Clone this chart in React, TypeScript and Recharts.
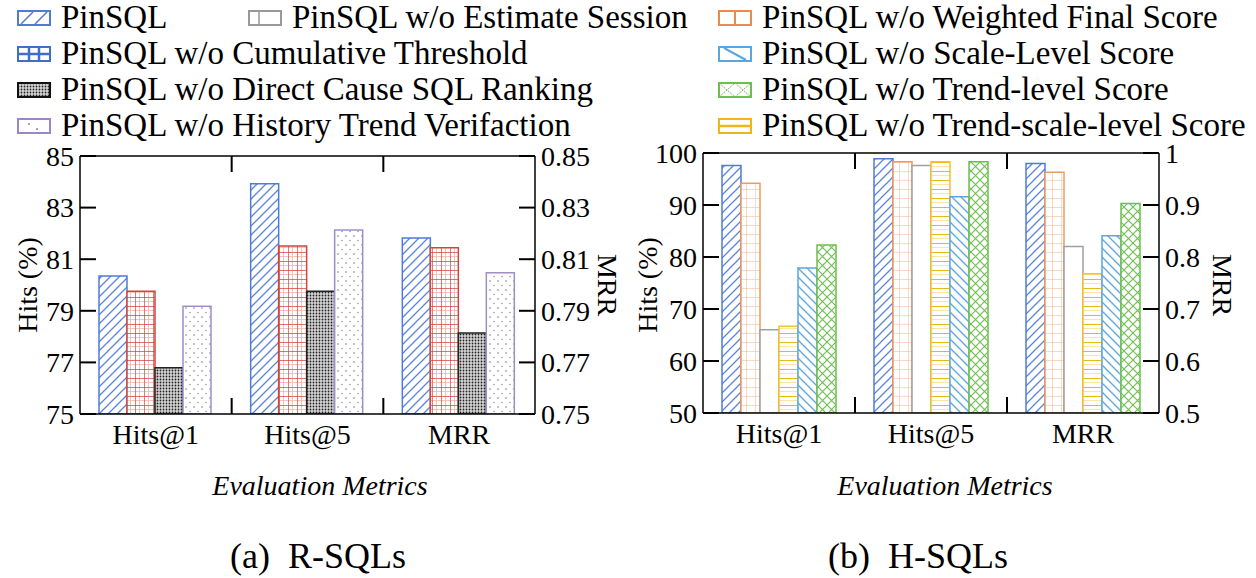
import { BarChart, Bar, XAxis, YAxis, ReferenceLine } from "recharts"

const FONT = "Liberation Serif"

const CATEGORIES = ["Hits@1", "Hits@5", "MRR"]

// (a) R-SQLs — Hits@1 (%), Hits@5 (%), MRR
const R_PINSQL = [80.35, 83.92, 0.8182]
const R_NO_CUMULATIVE = [79.76, 81.51, 0.8144]
const R_NO_DIRECT_CAUSE = [76.79, 79.76, 0.7814]
const R_NO_HISTORY = [79.18, 82.13, 0.8047]

// (b) H-SQLs
const H_PINSQL = [97.6, 98.9, 0.98]
const H_NO_WEIGHTED = [94.2, 98.3, 0.963]
const H_NO_ESTIMATE = [66.0, 97.6, 0.82]
const H_NO_TREND_SCALE = [66.7, 98.3, 0.768]
const H_NO_SCALE = [77.9, 91.6, 0.841]
const H_NO_TREND = [82.3, 98.3, 0.903]

const R_HITS_TICKS = [75, 77, 79, 81, 83, 85]
const R_MRR_TICKS = [0.75, 0.77, 0.79, 0.81, 0.83, 0.85]
const H_HITS_TICKS = [50, 60, 70, 80, 90, 100]
const H_MRR_TICKS = [0.5, 0.6, 0.7, 0.8, 0.9, 1]

/* MRR shares the bar axis: 0.8 on the right axis sits at 80 on the left one */
function toRows(series: Record<string, number[]>) {
  return CATEGORIES.map((cat, i) => {
    const row: Record<string, string | number> = { cat }
    for (const k of Object.keys(series)) row[k] = i === 2 ? series[k][i] * 100 : series[k][i]
    return row
  })
}

const R_ROWS = toRows({
  pin: R_PINSQL, cum: R_NO_CUMULATIVE, dir: R_NO_DIRECT_CAUSE, his: R_NO_HISTORY,
})
const H_ROWS = toRows({
  pin: H_PINSQL, wei: H_NO_WEIGHTED, est: H_NO_ESTIMATE,
  tsl: H_NO_TREND_SCALE, scl: H_NO_SCALE, trd: H_NO_TREND,
})

const R_BARS = [
  { key: "pin", fill: "url(#p-pin)", stroke: "#4F7BD6" },
  { key: "cum", fill: "url(#p-cum)", stroke: "#D4443C" },
  { key: "dir", fill: "url(#p-dir)", stroke: "#222" },
  { key: "his", fill: "url(#p-his)", stroke: "#9E8DC8" },
]
const H_BARS = [
  { key: "pin", fill: "url(#p-pin)", stroke: "#4F7BD6" },
  { key: "wei", fill: "url(#p-wei)", stroke: "#EE9B63" },
  { key: "est", fill: "#fff", stroke: "#A0A0A0" },
  { key: "tsl", fill: "url(#p-tsl)", stroke: "#F2C233" },
  { key: "scl", fill: "url(#p-scl)", stroke: "#5AA6DE" },
  { key: "trd", fill: "url(#p-trd)", stroke: "#6DBE4C" },
]

function Patterns() {
  return (
    <svg width={0} height={0} style={{ position: "absolute" }}>
      <defs>
        <pattern id="p-pin" width={9} height={9} patternUnits="userSpaceOnUse">
          <rect width={9} height={9} fill="#fff" />
          <path d="M-2,2 L2,-2 M0,9 L9,0 M7,11 L11,7" stroke="#5B84DA" strokeWidth={1.3} />
        </pattern>
        <pattern id="p-scl" width={9} height={9} patternUnits="userSpaceOnUse">
          <rect width={9} height={9} fill="#fff" />
          <path d="M-2,7 L2,11 M0,0 L9,9 M7,-2 L11,2" stroke="#5AA6DE" strokeWidth={1.3} />
        </pattern>
        <pattern id="p-trd" width={9} height={9} patternUnits="userSpaceOnUse">
          <rect width={9} height={9} fill="#fff" />
          <path d="M0,0 L9,9 M0,9 L9,0" stroke="#6DBE4C" strokeWidth={1.1} />
        </pattern>
        <pattern id="p-cum" width={9} height={9} patternUnits="userSpaceOnUse">
          <rect width={9} height={9} fill="#fff" />
          <path d="M4.5,0 V9 M0,4.5 H9" stroke="#F0B4B0" strokeWidth={0.8} />
          <path d="M0,0 V9 M0,0 H9" stroke="#D4443C" strokeWidth={1.4} />
        </pattern>
        <pattern id="p-wei" width={9} height={9} patternUnits="userSpaceOnUse">
          <rect width={9} height={9} fill="#fff" />
          <path d="M0,0 V9 M0,0 H9" stroke="#F3B48A" strokeWidth={1} />
        </pattern>
        <pattern id="p-tsl" width={9} height={9} patternUnits="userSpaceOnUse">
          <rect width={9} height={9} fill="#fff" />
          <path d="M0,4.5 H9" stroke="#F8DE94" strokeWidth={0.8} />
          <path d="M0,0 H9" stroke="#EDB716" strokeWidth={2} />
        </pattern>
        <pattern id="p-dir" width={3} height={3} patternUnits="userSpaceOnUse">
          <rect width={3} height={3} fill="#d6d6d6" />
          <circle cx={1.5} cy={1.5} r={0.9} fill="#222" />
        </pattern>
        <pattern id="p-his" width={8} height={9} patternUnits="userSpaceOnUse">
          <rect width={8} height={9} fill="#fff" />
          <circle cx={2} cy={2} r={0.8} fill="#777" />
          <circle cx={6} cy={6.5} r={0.8} fill="#999" />
        </pattern>
      </defs>
    </svg>
  )
}

const AXIS = { stroke: "#000", strokeWidth: 1.5 }
const TICK_LEN = 16

/* value label, with its tick line pointing into the plot */
function ValTick(props: any) {
  const { x, y, payload, side, fmt } = props
  const dir = side === "left" ? 1 : -1
  const ax = x + dir * 6
  return (
    <g>
      <line x1={ax} x2={ax + dir * TICK_LEN} y1={y} y2={y} stroke="#000" strokeWidth={2} />
      <text x={x} y={y} dy="0.35em" textAnchor={side === "left" ? "end" : "start"}
        fontSize={28} fontFamily={FONT} fill="#000">{fmt ? fmt(payload.value) : payload.value}</text>
    </g>
  )
}

/* category label, plus ticks on the group boundaries at the bottom and the top of the frame */
function CatTick(props: any) {
  const { x, y, payload, index, plotH } = props
  const bx = payload.coordinate - payload.offset
  const base = y - 10
  return (
    <g>
      {index > 0 && <path d={`M${bx},${base}v${-TICK_LEN}M${bx},${base - plotH}v${TICK_LEN}`} stroke="#000" strokeWidth={2} />}
      <text x={x} y={y} dy="0.71em" textAnchor="middle" fontSize={28} fontFamily={FONT} fill="#000">{payload.value}</text>
    </g>
  )
}

interface PanelProps {
  rows: Record<string, string | number>[]
  bars: { key: string; fill: string; stroke: string }[]
  hitsTicks: number[]
  mrrTicks: number[]
  mrrFmt: (v: number) => string
  width: number
  margin: { top: number; right: number; bottom: number; left: number }
}

function Panel({ rows, bars, hitsTicks, mrrTicks, mrrFmt, width, margin }: PanelProps) {
  const lo = hitsTicks[0]
  const hi = hitsTicks[hitsTicks.length - 1]
  const plotH = 480 - margin.top - margin.bottom - 40
  return (
    <BarChart width={width} height={480} data={rows} margin={margin}
      barCategoryGap={19} barGap={0}>
      <XAxis dataKey="cat" tick={(p: any) => <CatTick {...p} plotH={plotH} />} tickLine={false}
        tickSize={0} tickMargin={10} axisLine={AXIS} height={40} interval={0} />
      <YAxis yAxisId="l" domain={[lo, hi]} ticks={hitsTicks} width={60} allowDataOverflow interval={0}
        tick={(p: any) => <ValTick {...p} side="left" />} tickLine={false} tickSize={0} tickMargin={6} axisLine={AXIS} />
      <YAxis yAxisId="r" orientation="right" domain={[mrrTicks[0], mrrTicks[mrrTicks.length - 1]]}
        ticks={mrrTicks} width={70} allowDataOverflow interval={0}
        tick={(p: any) => <ValTick {...p} side="right" fmt={mrrFmt} />} tickLine={false} tickSize={0} tickMargin={6} axisLine={AXIS} />
      <ReferenceLine yAxisId="l" y={hi} stroke="#000" strokeWidth={1.5} ifOverflow="visible" />
      {bars.map(b => (
        <Bar key={b.key} yAxisId="l" dataKey={b.key} fill={b.fill} stroke={b.stroke}
          strokeWidth={1.5} isAnimationActive={false} />
      ))}
    </BarChart>
  )
}

function Icon({ kind }: { kind: string }) {
  const w = 34, h = 16
  let inner = null
  let color = "#000"
  switch (kind) {
    case "pin": color = "#4F7BD6"; inner = <path d="M4,14 L16,2 M18,14 L30,2" stroke={color} strokeWidth={1.5} />; break
    case "est": color = "#999"; inner = <path d="M11,1 V15" stroke={color} strokeWidth={1.5} />; break
    case "wei": color = "#E98A4E"; inner = <path d="M17,1 V15" stroke={color} strokeWidth={2} />; break
    case "cum": color = "#3F6FC6"; inner = <path d="M12,1 V15 M22,1 V15 M1,8 H33" stroke={color} strokeWidth={2.5} />; break
    case "scl": color = "#5AA6DE"; inner = <path d="M6,2 L28,14" stroke={color} strokeWidth={2} />; break
    case "dir": color = "#111"; inner = <rect x={2} y={2} width={30} height={12} fill="url(#p-dir)" />; break
    case "trd": color = "#6DBE4C"; inner = <path d="M1,15 L9,8 L17,1 L25,8 L33,15 M1,1 L9,8 L17,15 L25,8 L33,1" stroke={color} strokeWidth={1} strokeDasharray="2 1" fill="none" />; break
    case "his": color = "#9A86C9"; inner = <g fill="#888"><circle cx={12} cy={6} r={1} /><circle cx={20} cy={11} r={1} /></g>; break
    case "tsl": color = "#EDB716"; inner = <path d="M1,8 H33" stroke={color} strokeWidth={2.5} />; break
  }
  return (
    <svg width={w} height={h} style={{ position: "absolute", left: 0, top: 0 }}>
      <rect x={1} y={1} width={w - 2} height={h - 2} fill="#fff" stroke={color} strokeWidth={2} />
      {inner}
    </svg>
  )
}

const LEGEND = [
  { kind: "pin", label: "PinSQL", x: 17, row: 0 },
  { kind: "est", label: "PinSQL w/o Estimate Session", x: 248, row: 0 },
  { kind: "wei", label: "PinSQL w/o Weighted Final Score", x: 718, row: 0 },
  { kind: "cum", label: "PinSQL w/o Cumulative Threshold", x: 17, row: 1 },
  { kind: "scl", label: "PinSQL w/o Scale-Level Score", x: 718, row: 1 },
  { kind: "dir", label: "PinSQL w/o Direct Cause SQL Ranking", x: 17, row: 2 },
  { kind: "trd", label: "PinSQL w/o Trend-level Score", x: 718, row: 2 },
  { kind: "his", label: "PinSQL w/o History Trend Verifaction", x: 17, row: 3 },
  { kind: "tsl", label: "PinSQL w/o Trend-scale-level Score", x: 718, row: 3 },
]

export default function App() {
  return (
    <div style={{ position: "absolute", left: 0, top: 0, width: 1256, height: 578, background: "#fff", fontFamily: FONT, overflow: "hidden" }}>
      <Patterns />

      {LEGEND.map(it => (
        <div key={it.label} style={{ position: "absolute", left: it.x, top: 10 + it.row * 36, height: 16, whiteSpace: "nowrap" }}>
          <Icon kind={it.kind} />
          <span style={{ position: "absolute", left: 44, top: -11, fontSize: 33, lineHeight: "36px", color: "#000", fontFamily: FONT }}>{it.label}</span>
        </div>
      ))}

      <div style={{ position: "absolute", left: 0, top: 0 }}>
        <Panel rows={R_ROWS} bars={R_BARS} hitsTicks={R_HITS_TICKS} mrrTicks={R_MRR_TICKS}
          mrrFmt={v => v.toFixed(2)}
          width={620} margin={{ top: 156, right: 15, bottom: 26, left: 20 }} />
      </div>
      <div style={{ position: "absolute", left: 620, top: 0 }}>
        <Panel rows={H_ROWS} bars={H_BARS} hitsTicks={H_HITS_TICKS} mrrTicks={H_MRR_TICKS}
          mrrFmt={v => String(v)}
          width={636} margin={{ top: 153, right: 27, bottom: 27, left: 23 }} />
      </div>

      <svg width={1256} height={578} style={{ position: "absolute", left: 0, top: 0, pointerEvents: "none" }}
        fontFamily={FONT} fill="#000">
        <text transform="translate(27,285) rotate(-90)" textAnchor="middle" dominantBaseline="central" fontSize={28}>Hits (%)</text>
        <text transform="translate(607,285) rotate(90)" textAnchor="middle" dominantBaseline="central" fontSize={28}>MRR</text>
        <text transform="translate(647,285) rotate(-90)" textAnchor="middle" dominantBaseline="central" fontSize={28}>Hits (%)</text>
        <text transform="translate(1222,285) rotate(90)" textAnchor="middle" dominantBaseline="central" fontSize={28}>MRR</text>
        <text x={320} y={495} textAnchor="middle" fontSize={28} fontStyle="italic">Evaluation Metrics</text>
        <text x={945} y={495} textAnchor="middle" fontSize={28} fontStyle="italic">Evaluation Metrics</text>
        <text x={318} y={568} textAnchor="middle" fontSize={36}>(a)<tspan dx={18}>R-SQLs</tspan></text>
        <text x={918} y={568} textAnchor="middle" fontSize={36}>(b)<tspan dx={18}>H-SQLs</tspan></text>
      </svg>
    </div>
  )
}
